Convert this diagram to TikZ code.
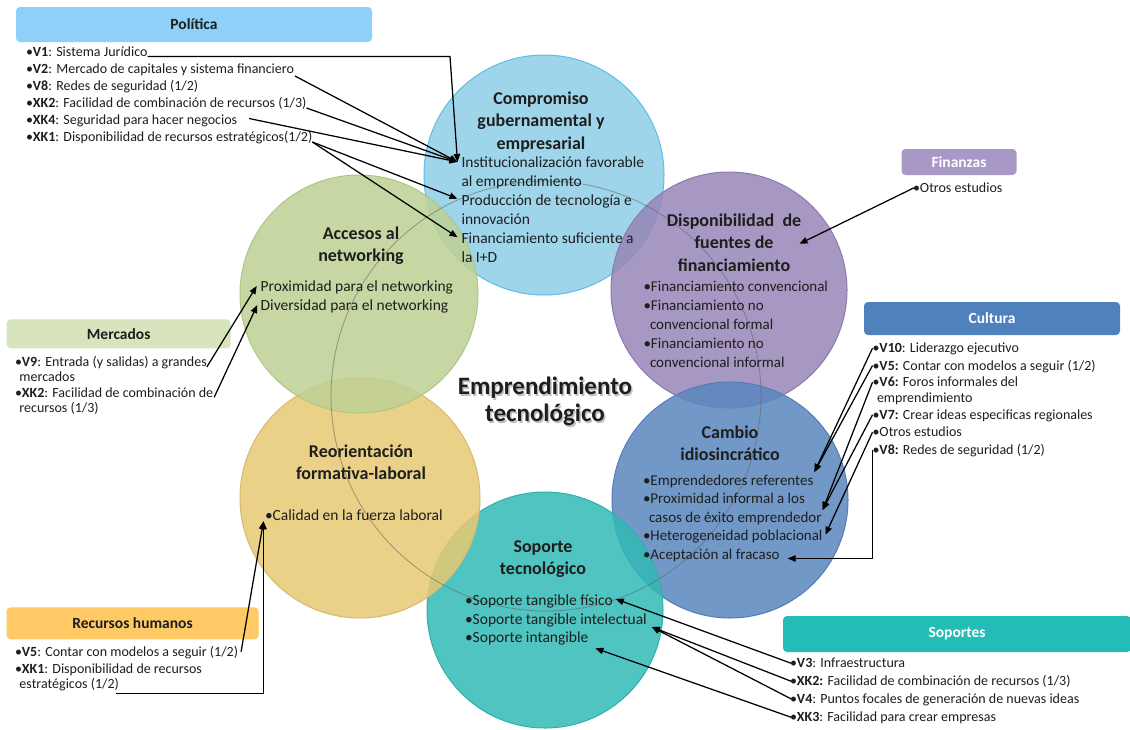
\documentclass[tikz,border=0pt]{standalone}
\usepackage{fontspec}
\setmainfont{Carlito}
\usetikzlibrary{arrows.meta,calc}
\definecolor{txt}{HTML}{1E1E1E}
\definecolor{cbl}{RGB}{143,206,231}
\definecolor{cpu}{RGB}{151,134,184}
\definecolor{cst}{RGB}{90,135,190}
\definecolor{cte}{RGB}{49,186,181}
\definecolor{cye}{RGB}{231,202,114}
\definecolor{cgr}{RGB}{190,209,148}
\definecolor{bbl}{RGB}{92,190,228}
\definecolor{bpu}{RGB}{140,122,175}
\definecolor{bst}{RGB}{85,125,180}
\definecolor{bte}{RGB}{50,175,170}
\definecolor{bye}{RGB}{215,185,110}
\definecolor{bgr}{RGB}{175,198,135}
\definecolor{hpolc}{RGB}{142,208,248}
\definecolor{hfinc}{RGB}{168,152,197}
\definecolor{hculc}{RGB}{79,129,189}
\definecolor{hmerc}{RGB}{215,228,189}
\definecolor{hrhc}{RGB}{255,201,102}
\definecolor{hsopc}{RGB}{35,188,182}
\tikzset{
  lst/.style={anchor=base west, inner sep=0pt, outer sep=0pt, font=\fontsize{14}{17}\selectfont, text=txt},
  itm/.style={anchor=base west, inner sep=0pt, outer sep=0pt, font=\fontsize{15.5}{19}\selectfont, text=txt},
  bitm/.style={anchor=base west, inner sep=0pt, outer sep=0pt, font=\fontsize{15}{19}\selectfont, text=txt},
  ttl/.style={anchor=base, inner sep=0pt, outer sep=0pt, font=\bfseries\fontsize{18}{22}\selectfont, text=txt},
  ctr/.style={anchor=base, inner sep=0pt, outer sep=0pt, font=\bfseries\fontsize{25}{27}\selectfont},
  hdr/.style={rounded corners=4pt, inner sep=0pt, font=\bfseries\fontsize{15.5}{18}\selectfont},
  arr/.style={draw=black, line width=1.25pt, -{Triangle[length=8pt,width=6.5pt]}},
  ball/.style={fill opacity=0.85, line width=1pt}
}
\begin{document}
\begin{tikzpicture}[x=1pt,y=-1pt]
\useasboundingbox (0,0) rectangle (1130,729);
\fill[white] (0,0) rectangle (1130,729);

% circles
\filldraw[ball, fill=cbl, draw=bbl] (544,175) circle (120pt);
\filldraw[ball, fill=cpu, draw=bpu] (729,290) circle (118pt);
\filldraw[ball, fill=cst, draw=bst] (730,500) circle (118pt);
\filldraw[ball, fill=cte, draw=bte] (545,610) circle (118pt);
\filldraw[ball, fill=cye, draw=bye] (360,498) circle (120pt);
\filldraw[ball, fill=cgr, draw=bgr] (359,294) circle (119pt);
\draw[line width=0.8pt, draw=black!60, opacity=0.6] (546,396) circle (215pt);

% header boxes
\node[hdr, fill=hpolc, minimum width=356pt, minimum height=35pt, text=txt] (hpol) at (194,24.5) {Política};
\node[hdr, fill=hfinc, minimum width=115pt, minimum height=26pt, text=white] (hfin) at (959,162) {Finanzas};
\node[hdr, fill=hculc, minimum width=256pt, minimum height=33pt, text=white] (hcul) at (992,318.5) {Cultura};
\node[hdr, fill=hmerc, minimum width=224pt, minimum height=29pt, text=txt] (hmer) at (118.7,333.8) {Mercados};
\node[hdr, fill=hrhc, minimum width=252pt, minimum height=32pt, text=txt] (hrh) at (132.5,623.3) {Recursos humanos};
\node[hdr, fill=hsopc, minimum width=348pt, minimum height=36pt, text=white] (hsop) at (957,634) {Soportes};

% Politica list
\node[lst] (p1) at (26,56.5) {•\textbf{V1}: Sistema Jurídico};
\node[lst] (p2) at (26,73.5) {•\textbf{V2}: Mercado de capitales y sistema financiero};
\node[lst] (p3) at (26,90.5) {•\textbf{V8}: Redes de seguridad (1/2)};
\node[lst] (p4) at (26,107.5) {•\textbf{XK2}: Facilidad de combinación de recursos (1/3)};
\node[lst] (p5) at (26,124.5) {•\textbf{XK4}: Seguridad para hacer negocios};
\node[lst] (p6) at (26,141.5) {•\textbf{XK1}: Disponibilidad de recursos estratégicos(1/2)};

% Finanzas list
\node[lst] (f1) at (913,192.3) {•Otros estudios};

% Cultura list
\node[lst] (c1) at (872.5,352.7) {•\textbf{V10}: Liderazgo ejecutivo};
\node[lst] (c2) at (872.5,370) {•\textbf{V5:} Contar con modelos a seguir (1/2)};
\node[lst] (c3) at (872.5,386.7) {•\textbf{V6:} Foros informales del};
\node[lst] (c3b) at (877,402.7) {emprendimiento};
\node[lst] (c4) at (872.5,419.3) {•\textbf{V7:} Crear ideas especificas regionales};
\node[lst] (c5) at (872.5,436.7) {•Otros estudios};
\node[lst] (c6) at (872.5,454) {•\textbf{V8:} Redes de seguridad (1/2)};

% Mercados list
\node[lst] (m1) at (15,366) {•\textbf{V9}: Entrada (y salidas) a grandes};
\node[lst] (m1b) at (19.5,381) {mercados};
\node[lst] (m2) at (15,397.3) {•\textbf{XK2}: Facilidad de combinación de};
\node[lst] (m2b) at (19.5,412.7) {recursos (1/3)};

% Recursos humanos list
\node[lst] (r1) at (15,656.7) {•\textbf{V5}: Contar con modelos a seguir (1/2)};
\node[lst] (r2) at (15,673.3) {•\textbf{XK1}: Disponibilidad de recursos};
\node[lst] (r2b) at (19.5,688.3) {estratégicos (1/2)};

% Soportes list
\node[lst] (so1) at (790,667.7) {•\textbf{V3}: Infraestructura};
\node[lst] (so2) at (790,685.7) {•\textbf{XK2:} Facilidad de combinación de recursos (1/3)};
\node[lst] (so3) at (790,703.3) {•\textbf{V4}: Puntos focales de generación de nuevas ideas};
\node[lst] (so4) at (790,721.7) {•\textbf{XK3}: Facilidad para crear empresas};

% top circle
\node[ttl] (tb1) at (541,104.3) {Compromiso};
\node[ttl] (tb2) at (541,126.8) {gubernamental y};
\node[ttl] (tb3) at (541,149.3) {empresarial};
\node[itm] (i1) at (461.5,167.7) {Institucionalización favorable};
\node[itm] (i2) at (461.5,186.7) {al emprendimiento};
\node[itm] (i3) at (461.5,205.7) {Producción de tecnología e};
\node[itm] (i4) at (461.5,224.7) {innovación};
\node[itm] (i5) at (461.5,243.7) {Financiamiento suficiente a};
\node[itm] (i6) at (461.5,262.7) {la I+D};

% purple circle
\node[ttl] (tp1) at (734,226) {Disponibilidad~~de};
\node[ttl] (tp2) at (734,248.8) {fuentes de};
\node[ttl] (tp3) at (734,271.6) {financiamiento};
\node[bitm] (pu1) at (643.5,291.7) {•Financiamiento convencional};
\node[bitm] (pu2) at (643.5,310.7) {•Financiamiento no};
\node[bitm] (pu3) at (650,329.5) {convencional formal};
\node[bitm] (pu4) at (643.5,348.3) {•Financiamiento no};
\node[bitm] (pu5) at (650,367) {convencional informal};

% steel circle
\node[ttl] (ts1) at (730,438.3) {Cambio};
\node[ttl] (ts2) at (730,460.8) {idiosincrático};
\node[bitm] (s1) at (643,485) {•Emprendedores referentes};
\node[bitm] (s2) at (643,503.5) {•Proximidad informal a los};
\node[bitm] (s3) at (649,522) {casos de éxito emprendedor};
\node[bitm] (s4) at (643,540.7) {•Heterogeneidad poblacional};
\node[bitm] (s5) at (643,559.5) {•Aceptación al fracaso};

% green circle
\node[ttl] (tg1) at (361,239.3) {Accesos al};
\node[ttl] (tg2) at (361,261.5) {networking};
\node[itm] (g1) at (260.7,291.7) {Proximidad para el networking};
\node[itm] (g2) at (260.7,310.7) {Diversidad para el networking};

% yellow circle
\node[ttl] (ty1) at (361,457.3) {Reorientación};
\node[ttl] (ty2) at (361,479.8) {formativa-laboral};
\node[itm] (y1) at (265,520.7) {•Calidad en la fuerza laboral};

% teal circle
\node[ttl] (tt1) at (543,552) {Soporte};
\node[ttl] (tt2) at (543,574.5) {tecnológico};
\node[itm] (t1) at (465,605) {•Soporte tangible físico};
\node[itm] (t2) at (465,624) {•Soporte tangible intelectual};
\node[itm] (t3) at (465,642.7) {•Soporte intangible};

% centre title
\node[ctr, text=black, opacity=0.25] (sh1) at (546.5,396.5) {Emprendimiento};
\node[ctr, text=black, opacity=0.25] (sh2) at (546.5,423.5) {tecnológico};
\node[ctr, text=txt] (e1) at (545,394.5) {Emprendimiento};
\node[ctr, text=txt] (e2) at (545,421.5) {tecnológico};

% target coordinates
\coordinate (ti1) at ($(i1.base west)+(-4,-5.8)$);
\coordinate (ti3) at ($(i3.base west)+(-4,-7)$);
\coordinate (ti5) at ($(i5.base west)+(-4,-6.5)$);
\coordinate (tfin) at ($(tp2.base east)+(26,-5)$);
\coordinate (tg1) at ($(g1.base west)+(-4,-5.7)$);
\coordinate (tg2) at ($(g2.base west)+(-3.4,-5.7)$);
\coordinate (ty1) at ($(y1.base west)+(-1.5,0.5)$);
\coordinate (ts1) at ($(s1.base east)+(1,-13)$);
\coordinate (ts3) at ($(s3.base east)+(1,-12)$);
\coordinate (ts4) at ($(s4.base east)+(3,-6)$);
\coordinate (ts5) at ($(s5.base east)+(8,-1)$);
\coordinate (tt1) at ($(t1.base east)+(3,-6)$);
\coordinate (tt2) at ($(t2.base east)+(5,3)$);
\coordinate (tt3) at ($(t3.base east)+(7,5.6)$);
\coordinate (kv1) at (450,56.5);

% Politica arrows
\draw[arr] (p1.base east) -- (kv1) -- (ti1);
\draw[arr] ($(p2.base east)+(1,2.5)$) -- (ti1);
\draw[arr] ($(p4.base east)+(0,0.5)$) -- (ti1);
\draw[arr] ($(p5.base east)+(12,-6)$) -- (ti1);
\draw[arr] ($(p6.base east)+(0,0.5)$) -- (ti3);
\draw[arr] ($(p6.base east)+(0,0.5)$) -- (ti5);

% Finanzas arrow
\draw[arr] ($(f1.base west)+(1,-4.5)$) -- (tfin);

% Mercados arrows
\draw[arr] ($(m1.base east)+(0,1)$) -- (tg1);
\draw[arr] ($(m2.base east)+(1,0)$) -- (tg2);

% Recursos humanos arrows
\draw[arr] ($(r1.base east)+(3,-5)$) -- (ty1);
\draw[arr] ($(r2b.base east)+(-3,5)$) -| (ty1);

% Cultura arrows
\draw[arr] ($(c1.base west)+(0,-4.5)$) -- (ts1);
\draw[arr] ($(c2.base west)+(0,-4.5)$) -- (ts1);
\draw[arr] ($(c3.base west)+(0,-4.5)$) -- (ts3);
\draw[arr] ($(c4.base west)+(0,-4.5)$) -- (ts3);
\draw[arr] ($(c5.base west)+(0,-4.5)$) -- (ts4);
\draw[arr] ($(c6.base west)+(0,-4.5)$) |- (ts5);

% Soportes arrows
\draw[arr] ($(so1.base west)+(1,-4.5)$) -- (tt1);
\draw[arr] ($(so2.base west)+(1,-4.5)$) -- (tt2);
\draw[arr] ($(so3.base west)+(1,-4.5)$) -- (tt2);
\draw[arr] ($(so4.base west)+(1,-4.5)$) -- (tt3);
\end{tikzpicture}
\end{document}
